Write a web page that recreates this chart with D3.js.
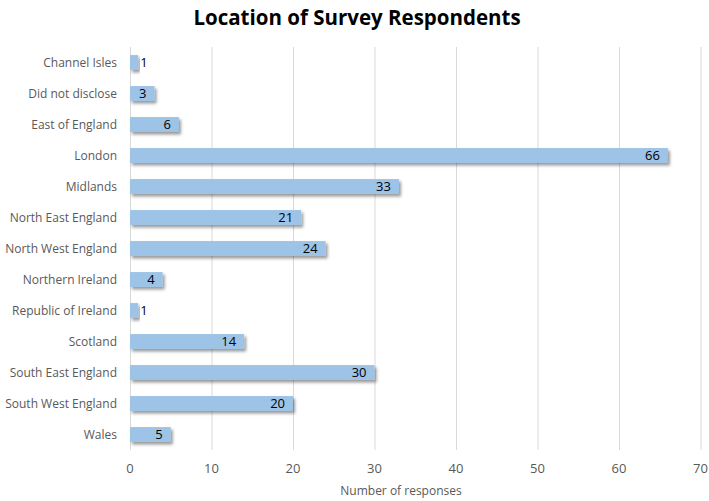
<!DOCTYPE html>
<html>
<head>
<meta charset="utf-8">
<script src="https://cdn.jsdelivr.net/npm/d3@7"></script>
<style>
  body { margin: 0; background: #fff; }
  svg { display: block; font-family: "Open Sans", sans-serif; }
</style>
</head>
<body>
<svg width="709" height="501"></svg>
<script>
const regions = [
  "Channel Isles", "Did not disclose", "East of England", "London", "Midlands",
  "North East England", "North West England", "Northern Ireland",
  "Republic of Ireland", "Scotland", "South East England",
  "South West England", "Wales"
];
const responses = [1, 3, 6, 66, 33, 21, 24, 4, 1, 14, 30, 20, 5];
const xTicks = [0, 10, 20, 30, 40, 50, 60, 70];

const data = regions.map((r, i) => ({ region: r, value: responses[i] }));

const svg = d3.select("svg");

const x = d3.scaleLinear().domain([0, 70]).range([130, 700.5]);
const y = d3.scaleBand().domain(regions).range([47, 450]).paddingInner(0.52).paddingOuter(0.26);

// drop shadow
const defs = svg.append("defs");
const f = defs.append("filter").attr("id", "shadow")
  .attr("x", "-10%").attr("y", "-50%").attr("width", "130%").attr("height", "220%");
f.append("feDropShadow").attr("dx", 2).attr("dy", 2.5)
  .attr("stdDeviation", 1.5).attr("flood-color", "#000").attr("flood-opacity", 0.4);

// gridlines
svg.append("g")
  .selectAll("line")
  .data(xTicks)
  .join("line")
  .attr("x1", d => x(d) + 0.5)
  .attr("x2", d => x(d) + 0.5)
  .attr("y1", 47)
  .attr("y2", 450)
  .attr("stroke", "#d9d9d9")
  .attr("stroke-width", 1);

// tick labels
svg.append("g")
  .selectAll("text")
  .data(xTicks)
  .join("text")
  .attr("x", d => x(d))
  .attr("y", 468)
  .attr("dy", "0.35em")
  .attr("text-anchor", "middle")
  .attr("font-size", 13)
  .attr("fill", "#595959")
  .text(d => d);

// bars
svg.append("g")
  .selectAll("rect")
  .data(data)
  .join("rect")
  .attr("x", x(0))
  .attr("y", d => y(d.region))
  .attr("width", d => x(d.value) - x(0))
  .attr("height", y.bandwidth())
  .attr("fill", "#9dc3e6")
  .attr("filter", "url(#shadow)");

// value labels
svg.append("g")
  .selectAll("text")
  .data(data)
  .join("text")
  .attr("x", d => d.value < 2 ? x(d.value) + 2 : x(d.value) - 8)
  .attr("y", d => y(d.region) + y.bandwidth() / 2)
  .attr("dy", "0.35em")
  .attr("text-anchor", d => d.value < 2 ? "start" : "end")
  .attr("font-size", 13)
  .attr("fill", "#000")
  .text(d => d.value);

// category labels
svg.append("g")
  .selectAll("text")
  .data(data)
  .join("text")
  .attr("x", 117)
  .attr("y", d => y(d.region) + y.bandwidth() / 2)
  .attr("dy", "0.35em")
  .attr("text-anchor", "end")
  .attr("font-size", 12)
  .attr("fill", "#595959")
  .text(d => d.region);

// title
svg.append("text")
  .attr("x", 357)
  .attr("y", 18)
  .attr("dy", "0.35em")
  .attr("text-anchor", "middle")
  .attr("font-size", 20.5)
  .attr("font-weight", "bold")
  .attr("fill", "#000")
  .text("Location of Survey Respondents");

// axis title
svg.append("text")
  .attr("x", 401)
  .attr("y", 491)
  .attr("dy", "0.35em")
  .attr("text-anchor", "middle")
  .attr("font-size", 12)
  .attr("fill", "#595959")
  .text("Number of responses");
</script>
</body>
</html>
